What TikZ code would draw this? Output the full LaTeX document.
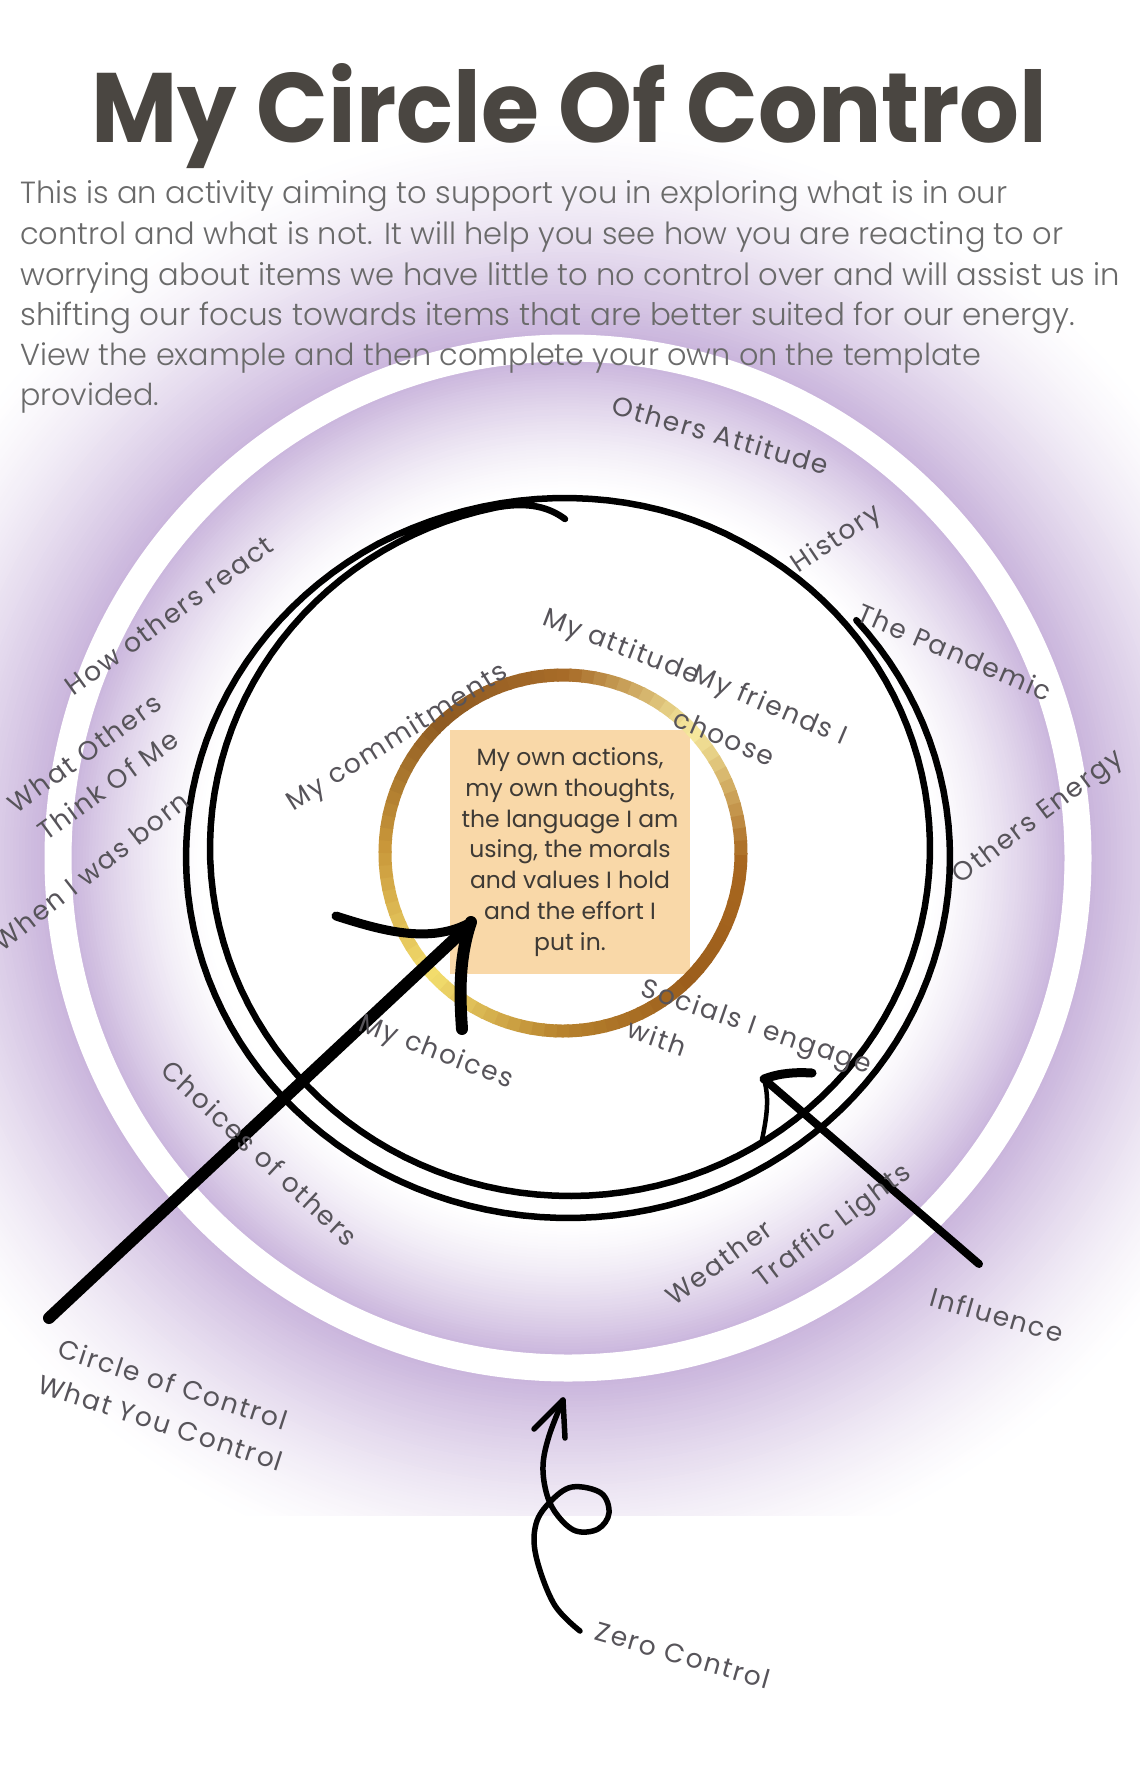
\documentclass[tikz,border=0pt]{standalone}
\usepackage{fontspec}
\usepackage{graphicx}
\setmainfont{Poppins}
\newfontfamily\titlefont{Poppins}
\newfontfamily\labfont{Poppins}[LetterSpace=7]
\newfontfamily\parafont{Poppins}[UprightFont=* Light]
\definecolor{lav}{HTML}{B79BD0}
\definecolor{labgray}{HTML}{57545A}
\definecolor{paragray}{HTML}{6A6A6A}
\definecolor{boxtext}{HTML}{3E3A35}
\definecolor{titlegray}{HTML}{4A4641}
\definecolor{peach}{HTML}{F9D8A8}
\definecolor{g0}{HTML}{A8671F}
\definecolor{g1}{HTML}{9C5E1C}
\definecolor{g2}{HTML}{B8832E}
\definecolor{g3}{HTML}{F3DE6E}
\definecolor{g4}{HTML}{C9973A}
\definecolor{g5}{HTML}{8E5A22}
\definecolor{g6}{HTML}{A86C28}
\definecolor{g7}{HTML}{F7EBA0}
\begin{document}
\begin{tikzpicture}[x=1pt,y=-1pt,
  lab/.style={font=\labfont\fontsize{26.5}{40}\selectfont, text=labgray, inner sep=0pt},
  para/.style={font=\parafont\fontsize{26}{40}\selectfont, text=paragray, inner sep=0pt, anchor=base west},
  pen/.style={draw=black, line cap=round, line join=round},
  spiralline/.style={pen, line width=6.5pt}]
\useasboundingbox (0,0) rectangle (1140,1781);
\fill[white] (0,0) rectangle (1140,1781);
% outer halo
\begin{scope}
\clip (0,0) rectangle (1140,1515);
\foreach \r in {524,527,...,740} {
  \pgfmathtruncatemacro\p{74*(max(0.001,1-(\r-524)/220))^1.5}
  \draw[line width=3.8pt, draw=lav!\p!white] (568,858) circle[radius=\r];
}
\end{scope}
% inner gradient
\foreach \r in {495,492,...,363} {
  \pgfmathtruncatemacro\p{72*((\r-360)/135)^1.4}
  \draw[line width=3.8pt, draw=lav!\p!white] (568,858) circle[radius=\r];
}
\fill[white] (568,858) circle[radius=362];
% white band
\draw[white, line width=27pt] (568,858) circle[radius=510];
% peach box
\node[fill=peach, minimum width=240pt, minimum height=244pt, inner sep=0pt, align=center,
  font=\fontsize{23.5}{30.8}\selectfont, text=boxtext] (core) at (570,852)
  {My own actions,\\my own thoughts,\\the language I am\\using, the morals\\and values I hold\\and the effort I\\put in.};
% gold ring
\foreach \a in {0,4,...,356} {
  \pgfmathtruncatemacro\k{\a/45}
  \pgfmathtruncatemacro\kk{mod(\k+1,8)}
  \pgfmathtruncatemacro\p{100-100*(\a-45*\k)/45}
  \draw[line width=13pt, draw=g\k!\p!g\kk] ([shift={(\a:178)}]563,853) arc[start angle=\a, end angle=\a+4.6, radius=178];
}
% black spiral
\coordinate (spend) at (565,519);
\draw[spiralline] plot[domain=-41:618, samples=240, variable=\t]
  ({568 + 2*min(1,max(0,(\t-240)/60)) + (382-22*min(1,max(0,(\t-240)/60)))*cos(\t)},
   {857 - 9*min(1,max(0,(\t-240)/60)) + (361-13*min(1,max(0,(\t-240)/60)))*sin(\t)})
  .. controls (530,501) and (550,508) .. (spend);
% arrow 1 (circle of control)
\coordinate (a1tail) at (49,1318);
\coordinate (a1tip) at (471,922);
\coordinate (a1b1) at (336,916);
\coordinate (a1b2) at (462,1029);
\draw[pen, line width=12pt] (a1tail) -- (462,932);
\draw[pen, line width=9pt] (a1b1) .. controls (380,930) and (430,945) .. (a1tip);
\draw[pen, line width=12pt] (a1tip) .. controls (458,960) and (460,1000) .. (a1b2);
% arrow 2 (influence)
\coordinate (a2tail) at (979,1264);
\coordinate (a2tip) at (764,1079);
\coordinate (a2b1) at (812,1073);
\coordinate (a2b2) at (762,1140);
\draw[pen, line width=8pt] (a2tail) -- (a2tip);
\draw[pen, line width=9pt] (a2tip) .. controls (780,1073) and (795,1072) .. (a2b1);
\draw[pen, line width=4.5pt] (a2tip) .. controls (770,1100) and (766,1120) .. (a2b2);
% arrow 3 (zero control)
\coordinate (a3tip) at (563,1400);
\draw[pen, line width=5.5pt] plot[smooth, tension=0.6] coordinates {(580,1631) (554,1604) (536,1556) (536,1524) (550,1502) (572,1487) (601,1493) (609,1513) (598,1529) (576,1531) (558,1516) (547,1495) (543,1466) (549,1436) (563,1400)};
\draw[pen, line width=5.5pt] (534,1429) -- (a3tip) -- (565,1438);
% labels
\node[lab, rotate=-16] (othatt) at (721,435) {Others Attitude};
\node[lab, rotate=34] (history) at (837,540) {History};
\node[lab, rotate=-23] (pandemic) at (955,652) {The Pandemic};
\node[lab, rotate=37] (othenergy) at (1039,818) {Others Energy};
\node[lab, rotate=36] (howreact) at (169,615) {How others react};
\node[lab, rotate=36, align=center] (whatothers) at (96,769) {What Others\\Think Of Me};
\node[lab, rotate=38] (born) at (91,871) {When I was born};
\node[lab, rotate=-21] (myatt) at (621,648) {My attitude};
\node[lab, rotate=-23, align=left] (friends) at (761,726) {My friends I\\[8pt]choose};
\node[lab, rotate=32] (commit) at (398,738) {My commitments};
\node[lab, rotate=-21] (choices) at (436,1053) {My choices};
\node[lab, rotate=-19, align=left] (socials) at (750,1046) {Socials I engage\\[4pt]with};
\node[lab, rotate=-43] (choicesoth) at (260,1153) {Choices of others};
\node[lab, rotate=36] (weather) at (719,1262) {Weather};
\node[lab, rotate=37] (traffic) at (834,1227) {Traffic Lights};
\node[lab, rotate=-16] (influence) at (997,1315) {Influence};
\node[lab, rotate=-18, align=center] (coc) at (167,1403) {Circle of Control\\What You Control};
\node[lab, rotate=-16] (zero) at (683,1655) {Zero Control};
% paragraph
\node[para] (p1) at (20,203) {\resizebox{987pt}{!}{This is an activity aiming to support you in exploring what is in our}};
\node[para] (p2) at (20,244.5) {\resizebox{1043pt}{!}{control and what is not. It will help you see how you are reacting to or}};
\node[para] (p3) at (20,285) {\resizebox{1100pt}{!}{worrying about items we have little to no control over and will assist us in}};
\node[para] (p4) at (20,325) {\resizebox{1055pt}{!}{shifting our focus towards items that are better suited for our energy.}};
\node[para] (p5) at (20,365) {\resizebox{961pt}{!}{View the example and then complete your own on the template}};
\node[para] (p6) at (20,405) {\resizebox{139pt}{!}{provided.}};
% title
\node[anchor=base west, inner sep=0pt, text=titlegray] (title) at (91,142) {\resizebox{956pt}{79pt}{\titlefont\bfseries My Circle Of Control}};
\end{tikzpicture}
\end{document}
